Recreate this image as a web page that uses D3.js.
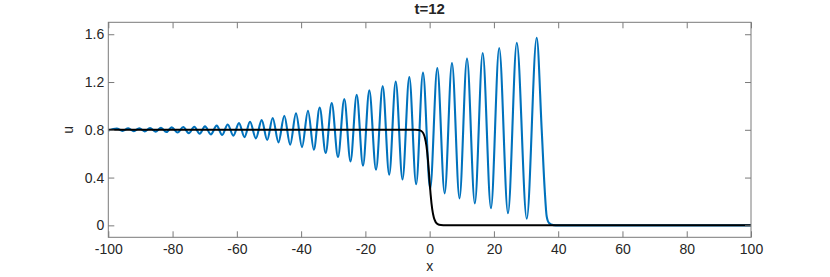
<!DOCTYPE html>
<html>
<head>
<meta charset="utf-8">
<script src="https://cdn.jsdelivr.net/npm/d3@7"></script>
<style>
  html, body { margin: 0; padding: 0; background: #fff; }
  svg { display: block; }
  text { font-family: "Liberation Sans", Arial, Helvetica, sans-serif; fill: #262626; }
</style>
</head>
<body>
<svg id="chart" width="830" height="277"></svg>
<script>
// ---- data ----
const titleText = "t=12";
const xLabel = "x";
const yLabel = "u";
const xTicks = [-100, -80, -60, -40, -20, 0, 20, 40, 60, 80, 100];
const yTicks = [0, 0.4, 0.8, 1.2, 1.6];
const xDomain = [-100, 100];
const yDomain = [-0.1, 1.7];

// blue oscillating solution: extrema (peaks / troughs)
const blueX = [-100, -97.39, -95.58, -93.78, -92.06, -90.35, -88.69, -87.02, -85.31, -83.60,
  -81.94, -80.27, -78.47, -76.66, -74.95, -73.24, -71.57, -69.91, -68.09, -66.27,
  -64.56, -62.84, -61.09, -59.33, -57.62, -55.90, -54.08, -52.26, -50.55, -48.84,
  -47.04, -45.23, -43.41, -41.59, -39.72, -37.86, -36.04, -34.22, -32.35, -30.48,
  -28.52, -26.56, -24.63, -22.70, -20.74, -18.78, -16.69, -14.61, -12.59, -10.56,
  -8.45, -6.33, -4.20, -2.07, 0.16, 2.38, 4.67, 6.95, 9.29, 11.62,
  14.06, 16.51, 19.08, 21.64, 24.38, 27.12, 30.22, 33.31, 34.87, 35.80,
  36.42, 37.14, 38.50, 40, 100];
const blueU = [0.793, 0.811, 0.791, 0.812, 0.789, 0.813, 0.787, 0.815, 0.785, 0.817,
  0.781, 0.820, 0.777, 0.823, 0.772, 0.826, 0.767, 0.829, 0.762, 0.835,
  0.757, 0.845, 0.751, 0.856, 0.739, 0.867, 0.728, 0.881, 0.714, 0.899,
  0.695, 0.918, 0.675, 0.938, 0.655, 0.960, 0.633, 0.987, 0.606, 1.024,
  0.572, 1.058, 0.536, 1.094, 0.500, 1.130, 0.465, 1.166, 0.424, 1.204,
  0.385, 1.241, 0.344, 1.279, 0.305, 1.317, 0.268, 1.359, 0.226, 1.397,
  0.184, 1.443, 0.143, 1.485, 0.101, 1.528, 0.055, 1.571, 0.80, 0.30,
  0.075, 0.02, 0.002, 0, 0];

// black initial step
const blackX = [-100, -4.5, -3.5, -2.6, -2.0, -1.5, -1.0, -0.5, -0.1, 0.3, 0.8, 1.3, 1.9, 2.5, 3.5, 5, 100];
const blackU = [0.8, 0.8, 0.798, 0.79, 0.772, 0.735, 0.665, 0.54, 0.40, 0.26, 0.135, 0.065, 0.026, 0.01, 0.002, 0, 0];

// ---- layout ----
const L = 108.3, R = 751, T = 22.3, B = 237.3;
const svg = d3.select("#chart");
const x = d3.scaleLinear().domain(xDomain).range([L, R]);
const y = d3.scaleLinear().domain(yDomain).range([B, T]);

const blue = blueX.map((v, i) => [v, blueU[i]]);
const black = blackX.map((v, i) => [v, blackU[i]]);

const line = d3.line().x(d => x(d[0])).y(d => y(d[1])).curve(d3.curveMonotoneX);

const plot = svg.append("g");
plot.append("clipPath").attr("id", "clip").append("rect")
  .attr("x", L).attr("y", T).attr("width", R - L).attr("height", B - T);

plot.append("path").datum(blue).attr("d", line)
  .attr("fill", "none").attr("stroke", "#0072BD").attr("stroke-width", 2.1)
  .attr("stroke-linejoin", "round").attr("clip-path", "url(#clip)");
plot.append("path").datum(black).attr("d", line)
  .attr("fill", "none").attr("stroke", "#000").attr("stroke-width", 2)
  .attr("stroke-linejoin", "round").attr("clip-path", "url(#clip)");

// ---- axes (MATLAB style, box on, ticks inside) ----
const axisColor = "#7a7a7a";
const fmtX = d => String(d).replace("\u2212", "-");
const fmtY = d => d === 0 ? "0" : d3.format(".1f")(d);

function styleAxis(g) {
  g.select(".domain").remove();
  g.selectAll(".tick line").attr("stroke", axisColor);
  g.selectAll(".tick text").style("font-size", "14px").attr("fill", "#262626");
}

svg.append("g").attr("transform", `translate(0,${B})`)
  .call(d3.axisBottom(x).tickValues(xTicks).tickFormat(fmtX).tickSizeInner(-6).tickSizeOuter(0).tickPadding(7))
  .call(styleAxis);
svg.append("g").attr("transform", `translate(0,${T})`)
  .call(d3.axisTop(x).tickValues(xTicks).tickFormat("").tickSizeInner(-6).tickSizeOuter(0))
  .call(styleAxis);
svg.append("g").attr("transform", `translate(${L},0)`)
  .call(d3.axisLeft(y).tickValues(yTicks).tickFormat(fmtY).tickSizeInner(-6).tickSizeOuter(0).tickPadding(4))
  .call(styleAxis);
svg.append("g").attr("transform", `translate(${R},0)`)
  .call(d3.axisRight(y).tickValues(yTicks).tickFormat("").tickSizeInner(-6).tickSizeOuter(0))
  .call(styleAxis);

svg.append("rect").attr("x", L).attr("y", T).attr("width", R - L).attr("height", B - T)
  .attr("fill", "none").attr("stroke", axisColor).attr("stroke-width", 1);

// ---- labels ----
svg.append("text").attr("x", (L + R) / 2).attr("y", 14)
  .attr("text-anchor", "middle").style("font-size", "15px").style("font-weight", "bold")
  .text(titleText);
svg.append("text").attr("x", (L + R) / 2).attr("y", 271)
  .attr("text-anchor", "middle").style("font-size", "14px").text(xLabel);
svg.append("text").attr("transform", `translate(73,${(T + B) / 2}) rotate(-90)`)
  .attr("text-anchor", "middle").style("font-size", "14px").text(yLabel);
</script>
</body>
</html>
